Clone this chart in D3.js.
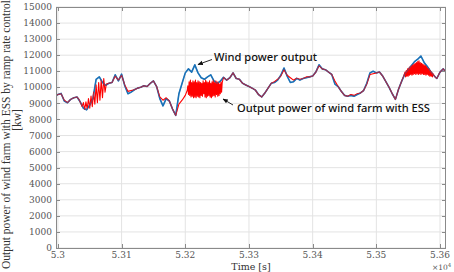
<!DOCTYPE html>
<html><head><meta charset="utf-8">
<script src="https://cdn.jsdelivr.net/npm/d3@7"></script>
<style>html,body{margin:0;padding:0;background:#fff;}svg{display:block;}</style>
</head><body>
<svg id="chart" width="454" height="272"></svg>
<script>
// ---- data ----
const windTime = [52995,53000,53005,53010,53015,53020,53025,53030,53035,53040,53045,53050,53055,53060,53065,53070,53075,53080,53085,53090,53095,53100,53105,53110,53115,53120,53125,53130,53135,53140,53145,53150,53155,53160,53165,53170,53175,53180,53185,53190,53195,53200,53205,53210,53215,53220,53225,53230,53235,53240,53245,53250,53255,53260,53265,53270,53275,53280,53285,53290,53295,53300,53305,53310,53315,53320,53325,53330,53335,53340,53345,53350,53355,53360,53365,53370,53375,53380,53385,53390,53395,53400,53405,53410,53415,53420,53425,53430,53435,53440,53445,53450,53455,53460,53465,53470,53475,53480,53485,53490,53495,53500,53505,53510,53515,53520,53525,53530,53535,53540,53545,53550,53555,53560,53565,53570,53575,53580,53585,53590,53595,53600,53605,53610];
const windPower = [9450,9550,9620,9150,9040,9250,9350,9400,9100,8700,8600,8900,9300,10500,10650,10300,10120,10250,10300,10780,10400,10820,10100,9600,9700,9850,9950,10000,10100,10050,10250,10400,10050,9300,8850,9300,9150,8650,8250,9600,10250,10900,11150,10950,11400,10900,10600,10500,10650,10780,10400,10250,10380,10620,10450,10600,10900,10550,10500,10250,10150,10050,9950,9830,9550,9400,9650,9950,10250,10300,10450,10750,11200,10700,10300,10350,10560,10450,10550,10600,10650,10700,10950,11400,11150,11100,10950,10800,10200,10050,9750,9500,9450,9500,9450,9550,9650,9800,10250,10900,11000,10900,10950,10700,10350,10000,9600,9250,9900,10400,10850,11100,11350,11600,11750,11950,11550,11300,11000,10750,10550,10950,11150,10900];

const essTime = [52995,53000,53005,53010,53015,53020,53025,53030,53033,53036,53038,53040,53042,53044,53046,53048,53050,53052,53054,53056,53058,53060,53062,53064,53066,53068,53070,53072,53074,53076,53080,53085,53090,53095,53100,53105,53110,53115,53120,53125,53130,53135,53140,53145,53150,53155,53160,53165,53170,53175,53180,53185,53190,53195,53200,53203,
53204,53205,53206,53207,53208,53209,53210,53211,53212,53213,53214,53215,53216,53217,53218,53219,53220,53221,53222,53223,53224,53225,53226,53227,53228,53229,53230,53231,53232,53233,53234,53235,53236,53237,53238,53239,53240,53241,53242,53243,53244,53245,53246,53247,53248,53249,53250,53251,53252,53253,53254,53255,53256,53257,53258,
53260,53265,53270,53275,53280,53285,53290,53295,53300,53305,53310,53315,53320,53325,53330,53335,53340,53345,53350,53355,53360,53365,53370,53375,53380,53385,53390,53395,53400,53405,53410,53415,53420,53425,53430,53435,53440,53445,53450,53455,53460,53465,53470,53475,53480,53485,53490,53495,53500,53505,53510,53515,53520,53525,53530,53535,53540,53543,
53545,53546,53547,53548,53549,53550,53551,53552,53553,53554,53555,53556,53557,53558,53559,53560,53561,53562,53563,53564,53565,53566,53567,53568,53569,53570,53571,53572,53573,53574,53575,53576,53577,53578,53579,53580,53581,53582,53583,53584,53585,53586,53587,53588,53589,
53592,53595,53600,53605,53610];
const essPower = [9450,9550,9600,9200,9050,9250,9350,9400,9250,9000,8800,9050,8620,9100,8650,9300,8700,9450,8800,9700,8950,10150,9050,10300,9200,10450,9350,10550,9700,10200,10250,10300,10700,10450,10750,10150,9750,9800,9850,9950,10000,10100,10050,10250,10400,10050,9400,9200,9350,9150,8650,8250,8950,9200,9500,9800,
10100,9550,10350,9500,10450,9400,10300,9450,10400,9350,10350,9400,10450,9350,10300,9450,10400,9400,10350,9350,10300,9500,10250,9450,10400,9600,10300,9400,10450,9350,10350,9450,10300,9500,10400,9400,10250,9350,10350,9450,10450,9500,10300,9400,10400,9550,10350,9450,10300,9500,10200,9600,10350,9700,10300,
10620,10450,10600,10900,10550,10500,10250,10150,10050,9950,9830,9550,9400,9650,9950,10250,10350,10500,10700,11100,10750,10600,10450,10560,10500,10550,10650,10650,10700,10950,11350,11150,11100,10950,10800,10400,10050,9750,9500,9450,9550,9500,9600,9650,9800,10200,10800,10850,10900,10950,10700,10350,10000,9600,9250,9900,10400,10700,
10950,10650,11050,10700,11150,10700,11200,10750,11300,10800,11350,10750,11400,10800,11450,10850,11500,10800,11550,10850,11600,10800,11650,10850,11550,10800,11500,10850,11450,10800,11400,10800,11350,10750,11300,10800,11200,10750,11150,10700,11050,10700,10950,10650,10850,
10650,10550,10950,11150,10900];

const xTicks = [53000,53100,53200,53300,53400,53500,53600];
const yTicks = [0,1000,2000,3000,4000,5000,6000,7000,8000,9000,10000,11000,12000,13000,14000,15000];

// ---- layout ----
const svg = d3.select("#chart");
const L = 56, R = 446, T = 7, B = 248;
const x = d3.scaleLinear().domain([52997, 53609.4]).range([L, R]);
const y = d3.scaleLinear().domain([0, 15000]).range([B, T]);

// grid
const g = svg.append("g");
g.selectAll(".gx").data(xTicks).enter().append("line")
  .attr("x1", d => x(d)).attr("x2", d => x(d)).attr("y1", T).attr("y2", B)
  .attr("stroke", "#e3e3e3").attr("stroke-width", 1);
g.selectAll(".gy").data(yTicks).enter().append("line")
  .attr("x1", L).attr("x2", R).attr("y1", d => y(d)).attr("y2", d => y(d))
  .attr("stroke", "#e3e3e3").attr("stroke-width", 1);

// clip
svg.append("clipPath").attr("id", "clip").append("rect")
  .attr("x", L).attr("y", T).attr("width", R - L).attr("height", B - T);

const windData = windTime.map((t, i) => [t, windPower[i]]);
const essData = essTime.map((t, i) => [t, essPower[i]]);
const line = d3.line().x(d => x(d[0])).y(d => y(d[1]));

const lines = svg.append("g").attr("clip-path", "url(#clip)");
lines.append("path").datum(windData).attr("d", line)
  .attr("fill", "none").attr("stroke", "#1a72b8").attr("stroke-width", 1.6).attr("stroke-linejoin", "round");
lines.append("path").datum(essData).attr("d", line)
  .attr("fill", "none").attr("stroke", "#ff0000").attr("stroke-width", 1.1).attr("stroke-linejoin", "round");
lines.append("path").datum(windData).attr("d", line)
  .attr("fill", "none").attr("stroke", "#1a72b8").attr("stroke-opacity", 0.45).attr("stroke-width", 1.1).attr("stroke-linejoin", "round");

// axes box
const axisCol = "#8a8a8a";
svg.append("rect").attr("x", L + 0.5).attr("y", T + 0.5).attr("width", R - L - 1).attr("height", B - T)
  .attr("fill", "none").attr("stroke", axisCol).attr("stroke-width", 1);

// ticks (inward, both sides)
const tk = 4;
svg.selectAll(".tyl").data(yTicks).enter().append("line")
  .attr("x1", L).attr("x2", L + tk).attr("y1", d => Math.round(y(d)) + 0.5).attr("y2", d => Math.round(y(d)) + 0.5)
  .attr("stroke", axisCol);
svg.selectAll(".tyr").data(yTicks).enter().append("line")
  .attr("x1", R - tk).attr("x2", R).attr("y1", d => Math.round(y(d)) + 0.5).attr("y2", d => Math.round(y(d)) + 0.5)
  .attr("stroke", axisCol);
svg.selectAll(".txb").data(xTicks).enter().append("line")
  .attr("x1", d => Math.round(x(d)) + 0.5).attr("x2", d => Math.round(x(d)) + 0.5).attr("y1", B).attr("y2", B - tk)
  .attr("stroke", axisCol);
svg.selectAll(".txt").data(xTicks).enter().append("line")
  .attr("x1", d => Math.round(x(d)) + 0.5).attr("x2", d => Math.round(x(d)) + 0.5).attr("y1", T).attr("y2", T + tk)
  .attr("stroke", axisCol);

// tick labels
const tickFont = "'DejaVu Serif', serif";
svg.selectAll(".ly").data(yTicks).enter().append("text")
  .attr("x", L - 4).attr("y", d => y(d)).attr("dy", "0.35em")
  .attr("text-anchor", "end").attr("font-family", tickFont).attr("font-size", 9)
  .attr("fill", "#555").text(d => d);
svg.selectAll(".lx").data(xTicks).enter().append("text")
  .attr("x", d => x(d)).attr("y", B + 10)
  .attr("text-anchor", "middle").attr("font-family", tickFont).attr("font-size", 9)
  .attr("fill", "#555").text(d => String(+(d / 10000).toFixed(2)));

// exponent
const ex = svg.append("text").attr("x", 432).attr("y", 270).attr("font-family", tickFont)
  .attr("font-size", 7.5).attr("fill", "#555");
ex.append("tspan").text("×10");
ex.append("tspan").attr("dy", -3).attr("font-size", 5.5).text("4");

// axis titles
svg.append("text").attr("x", (L + R) / 2).attr("y", 270).attr("text-anchor", "middle")
  .attr("font-family", tickFont).attr("font-size", 9.5).attr("fill", "#333").text("Time [s]");
svg.append("text").attr("transform", "translate(10,269) rotate(-90)")
  .attr("font-family", "'Liberation Serif', serif").attr("font-size", 11.5).attr("fill", "#333")
  .text("Output power of wind farm with ESS by ramp rate control");
svg.append("text").attr("transform", "translate(21,120) rotate(-90)").attr("text-anchor", "middle")
  .attr("font-family", "'Liberation Serif', serif").attr("font-size", 11.5).attr("fill", "#333")
  .text("[kw]");

// annotations
const defs = svg.append("defs");
defs.append("marker").attr("id", "ah").attr("viewBox", "0 0 10 10").attr("refX", 9).attr("refY", 5)
  .attr("markerWidth", 6).attr("markerHeight", 6).attr("orient", "auto")
  .append("path").attr("d", "M0,1 L10,5 L0,9 Z").attr("fill", "#111");
svg.append("line").attr("x1", 212).attr("y1", 59.5).attr("x2", 198).attr("y2", 64.5)
  .attr("stroke", "#111").attr("stroke-width", 0.9).attr("marker-end", "url(#ah)");
svg.append("line").attr("x1", 233).attr("y1", 105).attr("x2", 223).attr("y2", 99)
  .attr("stroke", "#111").attr("stroke-width", 0.9).attr("marker-end", "url(#ah)");
const annFont = "'Noto Sans', sans-serif";
svg.append("text").attr("x", 214).attr("y", 61).attr("font-family", annFont).attr("font-size", 11.5)
  .attr("font-weight", 500).attr("fill", "#111").attr("textLength", 103).attr("lengthAdjust", "spacingAndGlyphs").text("Wind power output");
svg.append("text").attr("x", 237).attr("y", 112).attr("font-family", annFont).attr("font-size", 11.5)
  .attr("font-weight", 500).attr("fill", "#111").attr("textLength", 193).attr("lengthAdjust", "spacingAndGlyphs").text("Output power of wind farm with ESS");
</script>
</body></html>
